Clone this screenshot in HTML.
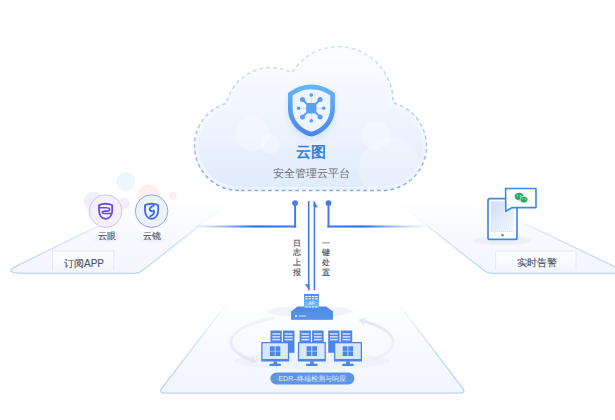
<!DOCTYPE html>
<html><head><meta charset="utf-8">
<style>
html,body{margin:0;padding:0;background:#fff;width:615px;height:420px;overflow:hidden}
svg{display:block}
text{font-family:"Liberation Sans",sans-serif}
</style></head>
<body>
<svg width="615" height="420" viewBox="0 0 615 420">
<defs>
  <linearGradient id="platL" gradientUnits="userSpaceOnUse" x1="0" y1="195" x2="0" y2="273">
    <stop offset="0" stop-color="#f8fafe" stop-opacity="0"/>
    <stop offset="0.4" stop-color="#f7f9fe" stop-opacity="0.8"/>
    <stop offset="1" stop-color="#f3f6fd"/>
  </linearGradient>
  <linearGradient id="platB" gradientUnits="userSpaceOnUse" x1="0" y1="298" x2="0" y2="393">
    <stop offset="0" stop-color="#f8fafe" stop-opacity="0"/>
    <stop offset="0.5" stop-color="#f6f9fe" stop-opacity="0.85"/>
    <stop offset="1" stop-color="#f2f6fd"/>
  </linearGradient>
  <linearGradient id="edgeL" gradientUnits="userSpaceOnUse" x1="0" y1="195" x2="0" y2="273">
    <stop offset="0" stop-color="#cfdff8" stop-opacity="0"/>
    <stop offset="0.35" stop-color="#cfdff8" stop-opacity="0.2"/>
    <stop offset="0.5" stop-color="#c8dbf8" stop-opacity="0.8"/>
    <stop offset="1" stop-color="#bcd4f8"/>
  </linearGradient>
  <linearGradient id="edgeB" gradientUnits="userSpaceOnUse" x1="0" y1="298" x2="0" y2="393">
    <stop offset="0" stop-color="#cfdff8" stop-opacity="0"/>
    <stop offset="0.3" stop-color="#c8dbf8" stop-opacity="0.5"/>
    <stop offset="0.6" stop-color="#c4d8f8" stop-opacity="0.9"/>
    <stop offset="1" stop-color="#bcd4f8"/>
  </linearGradient>
  <linearGradient id="cloudFill" x1="0" y1="0" x2="0" y2="1">
    <stop offset="0" stop-color="#fbfdff"/>
    <stop offset="0.4" stop-color="#f2f7fe"/>
    <stop offset="1" stop-color="#e0ebfc"/>
  </linearGradient>
  <linearGradient id="cloudOuter" x1="0" y1="0" x2="0" y2="1">
    <stop offset="0" stop-color="#fbfcff"/>
    <stop offset="1" stop-color="#edf3fd"/>
  </linearGradient>
  <linearGradient id="dashG" gradientUnits="userSpaceOnUse" x1="0" y1="47" x2="0" y2="191">
    <stop offset="0" stop-color="#cde0fa"/>
    <stop offset="0.5" stop-color="#afcbf8"/>
    <stop offset="1" stop-color="#80acf4"/>
  </linearGradient>
  <linearGradient id="shieldG" x1="0" y1="0" x2="0" y2="1">
    <stop offset="0" stop-color="#66b6f9"/>
    <stop offset="1" stop-color="#4886e7"/>
  </linearGradient>
  <linearGradient id="lineL" gradientUnits="userSpaceOnUse" x1="192" y1="0" x2="296.1" y2="0">
    <stop offset="0" stop-color="#3a78ec" stop-opacity="0"/>
    <stop offset="0.22" stop-color="#3a78ec" stop-opacity="0.35"/>
    <stop offset="0.6" stop-color="#1f62ee"/>
    <stop offset="1" stop-color="#467be8"/>
  </linearGradient>
  <linearGradient id="lineR" gradientUnits="userSpaceOnUse" x1="428" y1="0" x2="327.5" y2="0">
    <stop offset="0" stop-color="#3a78ec" stop-opacity="0"/>
    <stop offset="0.3" stop-color="#3a78ec" stop-opacity="0.4"/>
    <stop offset="0.64" stop-color="#1f62ee"/>
    <stop offset="1" stop-color="#467be8"/>
  </linearGradient>
  <linearGradient id="arcL" gradientUnits="userSpaceOnUse" x1="0" y1="317" x2="0" y2="361">
    <stop offset="0" stop-color="#e8ecf5" stop-opacity="0.5"/>
    <stop offset="1" stop-color="#e1e7f2"/>
  </linearGradient>
  <linearGradient id="arcR" gradientUnits="userSpaceOnUse" x1="0" y1="361" x2="0" y2="320">
    <stop offset="0" stop-color="#e8ecf5" stop-opacity="0.5"/>
    <stop offset="1" stop-color="#e1e7f2"/>
  </linearGradient>
  <linearGradient id="afG" x1="0" y1="0" x2="0" y2="1">
    <stop offset="0" stop-color="#4a8ee8"/>
    <stop offset="0.75" stop-color="#78b6f5"/>
    <stop offset="1" stop-color="#5f9ef0"/>
  </linearGradient>
  <linearGradient id="screenG" x1="0" y1="0" x2="1" y2="1">
    <stop offset="0" stop-color="#cfe0fa"/>
    <stop offset="1" stop-color="#f3f7fe"/>
  </linearGradient>
  <linearGradient id="boxG" x1="0" y1="0" x2="0" y2="1">
    <stop offset="0" stop-color="#ffffff"/>
    <stop offset="1" stop-color="#f3f6fc"/>
  </linearGradient>
  <clipPath id="cloudClip"><path d="M239.00,186.50 A40.50,40.50 0 0 1 229.97,106.52 A41.80,41.80 0 0 1 293.52,78.06 A50.50,50.50 0 0 1 388.67,106.05 A40.50,40.50 0 0 1 382.00,186.50 Z"/></clipPath>
  <filter id="blur1" x="-50%" y="-50%" width="200%" height="200%"><feGaussianBlur stdDeviation="1.5"/></filter>
  <filter id="blur2" x="-50%" y="-50%" width="200%" height="200%"><feGaussianBlur stdDeviation="3"/></filter>
</defs>

<!-- ============ PLATFORMS ============ -->
<!-- left platform -->
<path d="M161.5,195 L238.4,195 L142.1,270.8 Q139,273.3 134.5,273.3 L24,273.3 Q2,273.3 17,265.8 Z" fill="url(#platL)"/>
<path d="M161.5,195 L17,265.8 Q2,273.3 24,273.3 L134.5,273.3 Q139,273.3 142.1,270.8 L238.4,195" fill="none" stroke="url(#edgeL)" stroke-width="1.3"/>
<!-- right platform -->
<path d="M388,195 L465,195 L628.6,273.3 L492,273.3 Q487.5,273.3 484.4,270.8 Z" fill="url(#platL)"/>
<path d="M388,195 L484.4,270.8 Q487.5,273.3 492,273.3 L628.6,273.3 L465,195" fill="none" stroke="url(#edgeL)" stroke-width="1.3"/>
<!-- bottom platform -->
<path d="M231,298 L394,298 L462.5,388 Q466.5,393.2 459,393.2 L165.5,393.2 Q158,393.2 162,388 Z" fill="url(#platB)"/>
<path d="M231,298 L162,388 Q158,393.2 165.5,393.2 L459,393.2 Q466.5,393.2 462.5,388 L394,298" fill="none" stroke="url(#edgeB)" stroke-width="1.3"/>

<!-- ============ CLOUD ============ -->
<path d="M239.00,190.50 A44.50,44.50 0 0 1 226.53,103.28 A45.80,45.80 0 0 1 292.01,72.60 A54.50,54.50 0 0 1 392.88,102.85 A44.50,44.50 0 0 1 382.00,190.50 Z" fill="url(#cloudOuter)"/>
<path d="M239.00,186.50 A40.50,40.50 0 0 1 229.97,106.52 A41.80,41.80 0 0 1 293.52,78.06 A50.50,50.50 0 0 1 388.67,106.05 A40.50,40.50 0 0 1 382.00,186.50 Z" fill="url(#cloudFill)"/>
<!-- bubbles -->
<g clip-path="url(#cloudClip)">
<circle cx="252.4" cy="133.7" r="17" fill="#ffffff" opacity="0.35"/>
<circle cx="270.2" cy="144.1" r="10" fill="#ffffff" opacity="0.3"/>
<circle cx="375.7" cy="135.7" r="14" fill="#ffffff" opacity="0.35"/>
<circle cx="390" cy="168.5" r="31" fill="#ffffff" opacity="0.25"/>
</g>
<path d="M239.00,190.50 A44.50,44.50 0 0 1 226.53,103.28 A45.80,45.80 0 0 1 292.01,72.60 A54.50,54.50 0 0 1 392.88,102.85 A44.50,44.50 0 0 1 382.00,190.50 Z" fill="none" stroke="url(#dashG)" stroke-width="1.5" stroke-dasharray="3.7 3.1"/>

<!-- shield -->
<path d="M311.3,84.6 C302,84.6 294.5,88.5 288,92.9 L288,108.6 C288,123 299,134 311.3,136.6 C323.6,134 334.9,123 334.9,108.6 L334.9,92.9 C328,88.5 320.6,84.6 311.3,84.6 Z" fill="#b9cdf0" opacity="0.55" filter="url(#blur2)" transform="translate(0,2.5)"/>
<path d="M311.3,84.6 C302,84.6 294.5,88.5 288,92.9 L288,108.6 C288,123 299,134 311.3,136.6 C323.6,134 334.9,123 334.9,108.6 L334.9,92.9 C328,88.5 320.6,84.6 311.3,84.6 Z" fill="url(#shieldG)"/>
<path d="M311.3,89.2 C303.5,89.2 297.8,92 292.6,95.5 L292.6,108.6 C292.6,120.5 301.5,129.5 311.3,131.8 C321.1,129.5 330.3,120.5 330.3,108.6 L330.3,95.5 C325,92 319,89.2 311.3,89.2 Z" fill="#eef4fd"/>
<g fill="#5b9ef2" stroke="#5b9ef2">
  <line x1="311.3" y1="108.3" x2="302.5" y2="99.5" stroke-width="2"/>
  <line x1="311.3" y1="108.3" x2="320.1" y2="99.5" stroke-width="2"/>
  <line x1="311.3" y1="108.3" x2="302.5" y2="116.9" stroke-width="2"/>
  <line x1="311.3" y1="108.3" x2="320.1" y2="116.9" stroke-width="2"/>
  <line x1="311.3" y1="95.1" x2="311.3" y2="120.7" stroke-width="0.7" stroke-dasharray="1.2 0.9" opacity="0.55"/>
  <line x1="298.5" y1="108.3" x2="323.7" y2="108.3" stroke-width="0.7" stroke-dasharray="1.2 0.9" opacity="0.55"/>
  <rect x="306.2" y="103.1" width="10.2" height="10.5" rx="3" stroke="none"/>
  <circle cx="302.5" cy="99.5" r="2.5" stroke="none"/>
  <circle cx="320.1" cy="99.5" r="2.5" stroke="none"/>
  <circle cx="302.5" cy="116.9" r="2.5" stroke="none"/>
  <circle cx="320.1" cy="116.9" r="2.5" stroke="none"/>
  <circle cx="311.3" cy="95.1" r="1.8" stroke="none"/>
  <circle cx="311.3" cy="120.7" r="1.8" stroke="none"/>
  <circle cx="298.5" cy="108.3" r="1.8" stroke="none"/>
  <circle cx="323.7" cy="108.3" r="1.8" stroke="none"/>
</g>
<text x="310.6" y="156.7" font-size="15.2" font-weight="bold" fill="#3b7ee0" text-anchor="middle">云图</text>
<text x="311.8" y="176.9" font-size="11.2" fill="#676d78" text-anchor="middle">安全管理云平台</text>

<!-- ============ CONNECTORS ============ -->
<path d="M192,226.6 L295.1,226.6" fill="none" stroke="url(#lineL)" stroke-width="3" opacity="0.35" filter="url(#blur1)"/>
<path d="M192,226.6 L296.1,226.6" fill="none" stroke="url(#lineL)" stroke-width="2"/>
<path d="M295.1,203 L295.1,227.6" fill="none" stroke="#467be8" stroke-width="2"/>
<circle cx="295.1" cy="203.1" r="2.9" fill="#467be8"/>
<path d="M328.5,226.6 L428,226.6" fill="none" stroke="url(#lineR)" stroke-width="3" opacity="0.35" filter="url(#blur1)"/>
<path d="M327.5,226.6 L428,226.6" fill="none" stroke="url(#lineR)" stroke-width="2"/>
<path d="M328.5,203 L328.5,227.6" fill="none" stroke="#467be8" stroke-width="2"/>
<circle cx="328.5" cy="203.1" r="2.9" fill="#467be8"/>
<!-- arrows -->
<path d="M308.7,201 L308.7,290.3" fill="none" stroke="#467be8" stroke-width="1.6"/>
<path d="M309.5,290.4 L304.9,284.2 L309.5,284.2 Z" fill="#467be8"/>
<path d="M314.4,290.3 L314.4,201.5" fill="none" stroke="#467be8" stroke-width="1.6"/>
<path d="M313.6,201.2 L318.2,207.2 L313.6,207.2 Z" fill="#467be8"/>
<g font-size="8.2" fill="#4a5263" stroke="#4a5263" stroke-width="0.15" text-anchor="middle">
  <text x="297.2" y="245.5">日</text>
  <text x="297.2" y="255.3">志</text>
  <text x="297.2" y="265.1">上</text>
  <text x="297.2" y="274.9">报</text>
  <text x="326.3" y="245.5">一</text>
  <text x="326.3" y="255.3">键</text>
  <text x="326.3" y="265.1">处</text>
  <text x="326.3" y="274.9">置</text>
</g>

<!-- ============ LEFT: APPs ============ -->
<circle cx="93.7" cy="201.6" r="10" fill="#eef1fb"/>
<circle cx="124" cy="203.3" r="5.8" fill="#f2eefb"/>
<circle cx="125.8" cy="181.6" r="9.4" fill="#eef6fd"/>
<circle cx="148.3" cy="194.8" r="10.6" fill="#fdefeb"/>
<circle cx="172.7" cy="195.6" r="3.9" fill="#fdedee"/>
<ellipse cx="106" cy="239.8" rx="12.5" ry="2.6" fill="#eef1f7" opacity="0.8"/>
<ellipse cx="152" cy="239.8" rx="12.5" ry="2.6" fill="#eef1f7" opacity="0.8"/>
<circle cx="105.6" cy="211.1" r="16.3" fill="#f4f1fd" stroke="#c9bcf3" stroke-width="0.9"/>
<circle cx="151.6" cy="211.1" r="16.3" fill="#eef2fd" stroke="#809ff2" stroke-width="0.9"/>
<!-- 云眼 shield -->
<path d="M105.60,203.7 C102.60,203.7 100.60,204.3 99.00,205.3 L99.00,210.5 C99.00,215.5 102.00,218.4 105.60,218.8 C109.20,218.4 112.20,215.5 112.20,210.5 L112.20,205.3 C110.60,204.3 108.60,203.7 105.60,203.7 Z" fill="none" stroke="#6a50d2" stroke-width="1.85"/>
<path d="M98.8,207.7 L106.5,207.7 C110.2,207.7 110.8,211.1 107.3,211.1 L104.6,211.1 C101.4,211.1 101.4,213.5 104.6,213.5 L112.3,213.5" fill="none" stroke="#6a50d2" stroke-width="1.55"/>
<!-- 云镜 shield -->
<path d="M151.60,203.7 C148.60,203.7 146.60,204.3 145.00,205.3 L145.00,210.5 C145.00,215.5 148.00,218.4 151.60,218.8 C155.20,218.4 158.20,215.5 158.20,210.5 L158.20,205.3 C156.60,204.3 154.60,203.7 151.60,203.7 Z" fill="none" stroke="#3c6ee2" stroke-width="1.85"/>
<path d="M153.6,205.9 C150.8,206.5 149.2,208.5 149.9,210.2 C150.2,211 151.2,211.3 152.3,211.3 M153.7,210.5 C154.6,212.5 153.8,215 150.2,216.3" fill="none" stroke="#3c6ee2" stroke-width="1.9" stroke-linecap="round"/>
<text x="106.6" y="239.2" font-size="8.6" fill="#535a69" stroke="#535a69" stroke-width="0.15" text-anchor="middle">云眼</text>
<text x="152.4" y="239.2" font-size="8.6" fill="#535a69" stroke="#535a69" stroke-width="0.15" text-anchor="middle">云镜</text>
<!-- label box -->
<path d="M52.5,270 L52.5,251 L113.8,251 L113.8,270" fill="url(#boxG)" stroke="#dfe7f5" stroke-width="0.9"/>
<text x="84" y="266.5" font-size="10" fill="#4b5262" stroke="#4b5262" stroke-width="0.12" text-anchor="middle">订阅APP</text>

<!-- ============ RIGHT: alarm ============ -->
<ellipse cx="502" cy="240.5" rx="29" ry="4.6" fill="#edf0f6"/>
<rect x="488" y="198.6" width="29" height="40.8" rx="2" fill="#ffffff" stroke="#4189ea" stroke-width="1.7"/>
<rect x="490.8" y="201.3" width="23.4" height="30" fill="url(#screenG)"/>
<line x1="490.8" y1="231.5" x2="514.2" y2="231.5" stroke="#b5cdf4" stroke-width="0.6" stroke-dasharray="1.2 0.8"/>
<circle cx="502.5" cy="235.3" r="1.2" fill="#3f86e8"/>
<path d="M505.6,188.5 L536,188.5 L536,207.6 L512,207.6 L505.8,211.3 Z" fill="#ffffff" stroke="#3f86e8" stroke-width="1.6" stroke-linejoin="round"/>
<ellipse cx="519.2" cy="196.6" rx="4.5" ry="3.9" fill="#2bab62"/>
<circle cx="517.6" cy="195.6" r="0.6" fill="#fff"/>
<circle cx="520.6" cy="195.6" r="0.6" fill="#fff"/>
<ellipse cx="523.9" cy="199.6" rx="4" ry="3.4" fill="#2bab62" stroke="#fff" stroke-width="0.7"/>
<circle cx="522.6" cy="199" r="0.5" fill="#fff"/>
<circle cx="525.2" cy="199" r="0.5" fill="#fff"/>
<!-- label box -->
<path d="M495.6,270 L495.6,251.2 L576,251.2 L576,270" fill="url(#boxG)" stroke="#dfe7f5" stroke-width="0.9"/>
<text x="536.6" y="266.3" font-size="10" fill="#4b5262" stroke="#4b5262" stroke-width="0.12" text-anchor="middle">实时告警</text>

<!-- ============ BOTTOM: EDR ============ -->
<!-- circular arrows -->
<ellipse cx="312" cy="361" rx="78" ry="8.5" fill="#edf1f8" opacity="0.9"/>
<path d="M273.97,318.16 L270.74,318.77 L267.59,319.42 L264.53,320.12 L261.58,320.87 L258.73,321.66 L255.99,322.50 L253.37,323.37 L250.87,324.29 L248.50,325.24 L246.26,326.23 L244.16,327.25 L242.21,328.30 L240.40,329.38 L238.74,330.48 L237.23,331.61 L235.88,332.77 L234.70,333.94 L233.67,335.13 L232.81,336.33 L232.11,337.54 L231.58,338.77 L231.22,340.00 L231.03,341.23 L231.01,342.47 L231.16,343.71 L231.48,344.94 L231.97,346.17 L232.63,347.38 L233.45,348.59 L234.44,349.78 L235.59,350.96 L236.90,352.11 L238.37,353.25 L239.99,354.36 L241.76,355.45 L243.69,356.51 L245.75,357.53 L247.95,358.53 L250.29,359.49 L252.76,360.41" fill="none" stroke="url(#arcL)" stroke-width="3"/>
<path d="M257.04,361.90 L249.05,363.58 L252.32,360.27 L251.80,355.64 Z" fill="#e1e7f2"/>
<path d="M370.27,360.76 L372.52,359.94 L374.68,359.10 L376.73,358.23 L378.67,357.33 L380.50,356.41 L382.22,355.46 L383.82,354.49 L385.29,353.50 L386.64,352.48 L387.87,351.46 L388.97,350.41 L389.94,349.35 L390.78,348.28 L391.48,347.20 L392.06,346.11 L392.50,345.01 L392.80,343.91 L392.96,342.80 L392.99,341.69 L392.89,340.59 L392.65,339.48 L392.27,338.38 L391.76,337.29 L391.11,336.20 L390.33,335.13 L389.42,334.06 L388.38,333.01 L387.21,331.97 L385.91,330.95 L384.49,329.95 L382.95,328.97 L381.28,328.01 L379.51,327.08 L377.61,326.17 L375.61,325.28 L373.50,324.43 L371.29,323.60 L368.97,322.81 L366.57,322.05 L364.07,321.32" fill="none" stroke="url(#arcR)" stroke-width="3"/>
<path d="M358.48,319.84 L366.31,317.54 L363.32,321.10 L364.20,325.67 Z" fill="#e1e7f2"/>
<ellipse cx="310" cy="311.5" rx="43" ry="5.5" fill="#edf1f9" opacity="0.8"/>
<!-- AF device -->
<path d="M297.7,306.5 L326,306.5 L332.8,311.3 L332.8,319.6 L291.3,319.6 L291.3,311.3 Z" fill="#4f8ae6"/>
<rect x="291.3" y="311.3" width="41.5" height="8.3" fill="#5590e8"/>
<circle cx="296" cy="316" r="1" fill="#fff"/>
<line x1="299" y1="316" x2="306" y2="316" stroke="#fff" stroke-width="0.8"/>
<rect x="304" y="294" width="15" height="14" fill="url(#afG)"/>
<g stroke="#ffffff" stroke-width="1">
  <line x1="305.3" y1="296.5" x2="318" y2="296.5" stroke-dasharray="2.4 0.9"/>
  <line x1="305.3" y1="298.8" x2="318" y2="298.8" stroke-dasharray="2.4 0.9"/>
  <line x1="305.3" y1="306.9" x2="318" y2="306.9" stroke-dasharray="2.4 0.9"/>
</g>
<text x="311.6" y="304.8" font-size="5.2" font-style="italic" fill="#eaf3fe" text-anchor="middle">AF</text>
<!-- computers -->
<rect x="270.5" y="330.5" width="11.3" height="22.3" fill="#4c87e6"/>
<rect x="283.0" y="330.5" width="11.5" height="22.3" fill="#4c87e6"/>
<rect x="272.3" y="333.2" width="7.8" height="1.5" fill="#d3e2fb"/>
<rect x="272.3" y="336.1" width="7.8" height="1.5" fill="#d3e2fb"/>
<rect x="272.3" y="338.9" width="7.8" height="1.5" fill="#d3e2fb"/>
<rect x="284.8" y="333.2" width="7.8" height="1.5" fill="#d3e2fb"/>
<rect x="284.8" y="336.1" width="7.8" height="1.5" fill="#d3e2fb"/>
<rect x="284.8" y="338.9" width="7.8" height="1.5" fill="#d3e2fb"/>
<rect x="261.2" y="342" width="28" height="19.6" rx="0.6" fill="#4c87e6"/>
<rect x="262.5" y="343.3" width="25.4" height="15.7" fill="#dae7fc"/>
<rect x="269.9" y="346.3" width="4.8" height="4.6" fill="#4c87e6"/>
<rect x="275.5" y="346.3" width="4.8" height="4.6" fill="#4c87e6"/>
<rect x="269.9" y="351.4" width="4.8" height="4.6" fill="#4c87e6"/>
<rect x="275.5" y="351.4" width="4.8" height="4.6" fill="#4c87e6"/>
<rect x="273.4" y="361.4" width="3.7" height="2.6" fill="#4c87e6"/>
<rect x="269.3" y="363.8" width="11.7" height="2.1" rx="1" fill="#4c87e6"/>
<rect x="299.6" y="330.5" width="11.3" height="22.3" fill="#4c87e6"/>
<rect x="312.1" y="330.5" width="11.5" height="22.3" fill="#4c87e6"/>
<rect x="301.4" y="333.2" width="7.8" height="1.5" fill="#d3e2fb"/>
<rect x="301.4" y="336.1" width="7.8" height="1.5" fill="#d3e2fb"/>
<rect x="301.4" y="338.9" width="7.8" height="1.5" fill="#d3e2fb"/>
<rect x="313.9" y="333.2" width="7.8" height="1.5" fill="#d3e2fb"/>
<rect x="313.9" y="336.1" width="7.8" height="1.5" fill="#d3e2fb"/>
<rect x="313.9" y="338.9" width="7.8" height="1.5" fill="#d3e2fb"/>
<rect x="297.9" y="342" width="28" height="19.6" rx="0.6" fill="#4c87e6"/>
<rect x="299.2" y="343.3" width="25.4" height="15.7" fill="#dae7fc"/>
<rect x="306.6" y="346.3" width="4.8" height="4.6" fill="#4c87e6"/>
<rect x="312.2" y="346.3" width="4.8" height="4.6" fill="#4c87e6"/>
<rect x="306.6" y="351.4" width="4.8" height="4.6" fill="#4c87e6"/>
<rect x="312.2" y="351.4" width="4.8" height="4.6" fill="#4c87e6"/>
<rect x="310.1" y="361.4" width="3.7" height="2.6" fill="#4c87e6"/>
<rect x="306.0" y="363.8" width="11.7" height="2.1" rx="1" fill="#4c87e6"/>
<rect x="328.2" y="330.5" width="11.3" height="22.3" fill="#4c87e6"/>
<rect x="340.7" y="330.5" width="11.5" height="22.3" fill="#4c87e6"/>
<rect x="330.0" y="333.2" width="7.8" height="1.5" fill="#d3e2fb"/>
<rect x="330.0" y="336.1" width="7.8" height="1.5" fill="#d3e2fb"/>
<rect x="330.0" y="338.9" width="7.8" height="1.5" fill="#d3e2fb"/>
<rect x="342.5" y="333.2" width="7.8" height="1.5" fill="#d3e2fb"/>
<rect x="342.5" y="336.1" width="7.8" height="1.5" fill="#d3e2fb"/>
<rect x="342.5" y="338.9" width="7.8" height="1.5" fill="#d3e2fb"/>
<rect x="334" y="342" width="28" height="19.6" rx="0.6" fill="#4c87e6"/>
<rect x="335.3" y="343.3" width="25.4" height="15.7" fill="#dae7fc"/>
<rect x="342.7" y="346.3" width="4.8" height="4.6" fill="#4c87e6"/>
<rect x="348.3" y="346.3" width="4.8" height="4.6" fill="#4c87e6"/>
<rect x="342.7" y="351.4" width="4.8" height="4.6" fill="#4c87e6"/>
<rect x="348.3" y="351.4" width="4.8" height="4.6" fill="#4c87e6"/>
<rect x="346.2" y="361.4" width="3.7" height="2.6" fill="#4c87e6"/>
<rect x="342.1" y="363.8" width="11.7" height="2.1" rx="1" fill="#4c87e6"/>
<!-- pill -->
<rect x="270.4" y="372.6" width="84" height="12" rx="6" fill="#5b94e9"/>
<text x="312.3" y="381.4" font-size="7" fill="#e6eefc" text-anchor="middle">EDR–终端检测与响应</text>
</svg>
</body></html>
